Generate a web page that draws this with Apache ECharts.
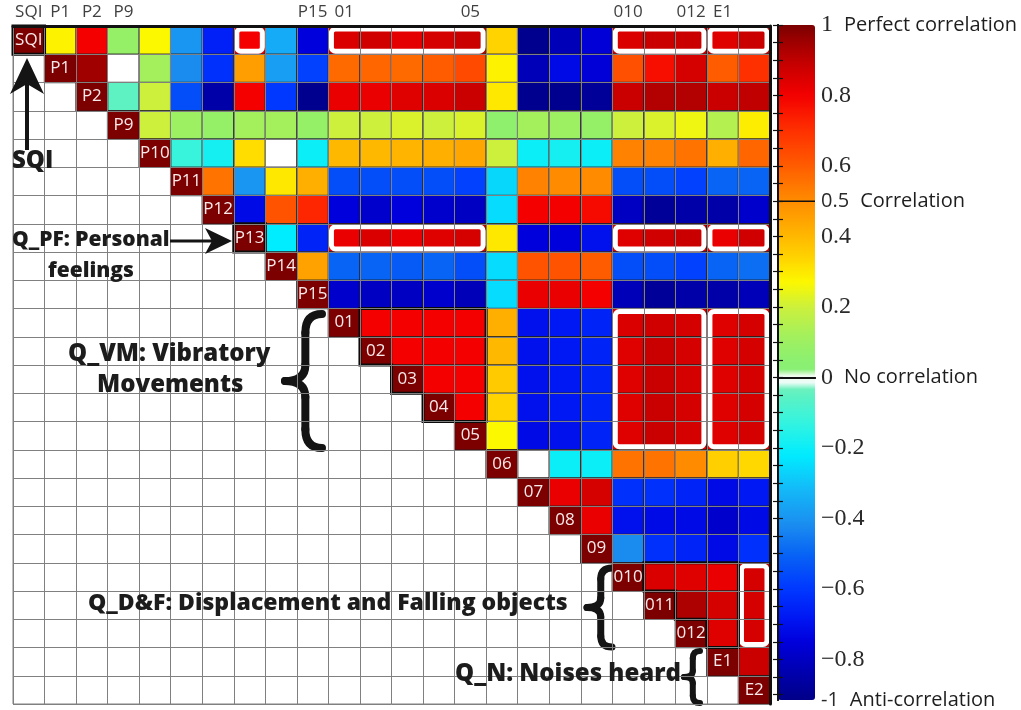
<!DOCTYPE html>
<html><head><meta charset="utf-8">
<script src="https://cdn.jsdelivr.net/npm/echarts@6/dist/echarts.min.js"></script>
<style>html,body{margin:0;padding:0;background:#fff}#chart{width:1021px;height:710px}</style>
</head><body><div id="chart"></div>
<script>
// ---------- DATA ----------
const names = ['SQI','P1','P2','P9','P10','P11','P12','P13','P14','P15','01','02','03','04','05','06','07','08','09','010','011','012','E1','E2'];
const topLabels = ['SQI','P1','P2','P9','P15','01','05','010','012','E1'];

// upper-triangle correlations, row i holds columns i+1 .. 23
const r_SQI = [0.28, 0.80, 0.08, 0.27, -0.40, -0.66, 0.80, -0.35, -0.75, 0.85, 0.87, 0.83, 0.86, 0.88, 0.34, -0.90, -0.82, -0.76, 0.85, 0.88, 0.88, 0.84, 0.88];
const r_P1  = [0.95, 0.00, 0.12, -0.42, -0.62, 0.46, -0.38, -0.58, 0.57, 0.58, 0.57, 0.60, 0.64, 0.28, -0.82, -0.72, -0.76, 0.63, 0.77, 0.86, 0.60, 0.70];
const r_P2  = [-0.05, 0.20, -0.55, -0.85, 0.80, -0.60, -0.90, 0.82, 0.82, 0.84, 0.85, 0.88, 0.30, -0.90, -0.90, -0.88, 0.88, 0.92, 0.92, 0.88, 0.90];
const r_P9  = [0.20, 0.10, 0.08, 0.12, 0.12, 0.08, 0.20, 0.20, 0.22, 0.20, 0.22, 0.06, 0.12, 0.10, 0.08, 0.20, 0.22, 0.25, 0.15, 0.29];
const r_P10 = [-0.12, -0.18, 0.32, 0.00, -0.20, 0.40, 0.40, 0.41, 0.42, 0.44, 0.20, -0.20, -0.18, -0.20, 0.52, 0.52, 0.55, 0.42, 0.58];
const r_P11 = [0.55, -0.40, 0.30, 0.42, -0.55, -0.55, -0.55, -0.55, -0.58, -0.26, 0.52, 0.50, 0.50, -0.55, -0.55, -0.58, -0.50, -0.50];
const r_P12 = [-0.72, 0.62, 0.72, -0.75, -0.78, -0.75, -0.78, -0.80, -0.25, 0.80, 0.80, 0.78, -0.80, -0.88, -0.85, -0.85, -0.78];
const r_P13 = [-0.22, -0.65, 0.82, 0.85, 0.82, 0.84, 0.86, 0.30, -0.75, -0.75, -0.70, 0.84, 0.87, 0.88, 0.82, 0.87];
const r_P14 = [0.45, -0.50, -0.50, -0.52, -0.50, -0.55, -0.25, 0.62, 0.62, 0.60, -0.55, -0.55, -0.58, -0.50, -0.48];
const r_P15 = [-0.78, -0.80, -0.80, -0.78, -0.82, -0.25, 0.82, 0.82, 0.80, -0.82, -0.88, -0.85, -0.85, -0.82];
const r_O1  = [0.80, 0.80, 0.80, 0.80, 0.42, -0.70, -0.68, -0.65, 0.85, 0.87, 0.86, 0.84, 0.86];
const r_O2  = [0.80, 0.80, 0.80, 0.40, -0.70, -0.68, -0.65, 0.84, 0.88, 0.86, 0.84, 0.86];
const r_O3  = [0.80, 0.80, 0.36, -0.70, -0.68, -0.65, 0.84, 0.88, 0.86, 0.84, 0.86];
const r_O4  = [0.80, 0.34, -0.70, -0.68, -0.65, 0.84, 0.88, 0.86, 0.84, 0.86];
const r_O5  = [0.27, -0.72, -0.70, -0.65, 0.84, 0.88, 0.86, 0.84, 0.86];
const r_O6  = [0.00, -0.20, -0.20, 0.55, 0.55, 0.50, 0.35, 0.33];
const r_O7  = [0.82, 0.86, -0.62, -0.62, -0.65, -0.72, -0.68];
const r_O8  = [0.82, -0.70, -0.72, -0.72, -0.78, -0.72];
const r_O9  = [-0.42, -0.62, -0.65, -0.72, -0.62];
const r_O10 = [0.85, 0.84, 0.82, 0.86];
const r_O11 = [0.93, 0.86, 0.86];
const r_O12 = [0.84, 0.86];
const r_E1  = [0.88];
const upperRows = [r_SQI, r_P1, r_P2, r_P9, r_P10, r_P11, r_P12, r_P13, r_P14, r_P15, r_O1, r_O2, r_O3, r_O4, r_O5, r_O6, r_O7, r_O8, r_O9, r_O10, r_O11, r_O12, r_E1];

// highlighted groups (white frames): [firstCol, firstRow, lastCol, lastRow]
const highlightBlocks = [[7,0,7,0],[10,0,14,0],[19,0,21,0],[22,0,23,0],[10,7,14,7],[19,7,21,7],[22,7,23,7],[19,10,21,14],[22,10,23,14],[23,19,23,21]];
// black outlined groups: [firstCol, firstRow, lastCol, lastRow, diagonalOffset]
const outlinedBlocks = [[0,0,0,0,0],[7,7,7,7,0],[11,10,14,13,0],[20,19,22,21,1]];

// colour bar
const cbMin = -0.915;
const cbLabelValues = [1, 0.8, 0.6, 0.5, 0.4, 0.2, 0, -0.2, -0.4, -0.6, -0.8, cbMin];
const cbLabelNums   = ['1','0.8','0.6','0.5','0.4','0.2','0','\u22120.2','\u22120.4','\u22120.6','\u22120.8','-1'];
const cbLabelNotes  = ['Perfect correlation','','','Correlation','','','No correlation','','','','','Anti-correlation'];
const cbSerif       = [true, true, true, false, true, true, true, true, true, true, true, false];
const cmapStops = [
  [cbMin,'#000088'],[-0.85,'#0000a8'],[-0.75,'#0000dc'],[-0.68,'#0018f4'],[-0.6,'#0038ff'],[-0.5,'#0864f4'],
  [-0.42,'#1a8cf0'],[-0.32,'#14b8f8'],[-0.22,'#00ecff'],[-0.12,'#38f4dc'],[-0.035,'#66f0bc'],[-0.02,'#c8f8e8'],
  [-0.012,'#ffffff'],[0.004,'#ffffff'],[0.012,'#88f078'],[0.05,'#8cf070'],[0.12,'#a4f05c'],[0.2,'#ccf03c'],
  [0.27,'#fcf800'],[0.33,'#ffd800'],[0.4,'#ffb800'],[0.5,'#ff8c00'],[0.55,'#ff7400'],[0.6,'#ff5c00'],
  [0.7,'#ff3000'],[0.8,'#f40000'],[0.9,'#c00000'],[0.95,'#a00000'],[1,'#7c0000']
];

// ---------- BUILD ----------
function hex(h){return [parseInt(h.substr(1,2),16),parseInt(h.substr(3,2),16),parseInt(h.substr(5,2),16)];}
function cmapAt(v){
  for(let i=0;i<cmapStops.length-1;i++){
    const a=cmapStops[i],b=cmapStops[i+1];
    if(v>=a[0]&&v<=b[0]){
      const t=(v-a[0])/(b[0]-a[0]||1),ca=hex(a[1]),cb=hex(b[1]);
      return 'rgb('+ca.map((c,k)=>Math.round(c+(cb[k]-c)*t)).join(',')+')';
    }
  }
  return v<cbMin?cmapStops[0][1]:cmapStops[cmapStops.length-1][1];
}
const cmapColors=[];
const NS=384;
for(let k=0;k<NS;k++){cmapColors.push(cmapAt(cbMin+(1-cbMin)*k/(NS-1)));}

const cellData=[];
upperRows.forEach((row,i)=>row.forEach((v,j)=>cellData.push([i+1+j,i,v])));
const diagData=names.map((n,i)=>[i,i,1]);

const cbMinorTicks=[];
for(let k=0;k<=38;k++){const v=+(1-k*0.05).toFixed(2); if(v>=cbMin) cbMinorTicks.push(v);}

function cbFormatter(v){
  const i=cbLabelValues.findIndex(x=>Math.abs(x-v)<1e-6);
  if(i<0) return '';
  const num=(cbSerif[i]?'{n|':'{s|')+cbLabelNums[i]+'}';
  return cbLabelNotes[i]?num+'{t|'+cbLabelNotes[i]+'}':num;
}

const chart=echarts.init(document.getElementById('chart'),null,{renderer:'canvas'});

const txtFont='"Open Sans", "Noto Sans", sans-serif';
function annText(x,y,t,size){
  return {type:'text',x:x,y:y,z:50,style:{text:t,fontFamily:txtFont,fontWeight:800,fontSize:size||24,fill:'#1c1c1c',verticalAlign:'middle',align:'left'}};
}
function brace(xl,xr,y0,y1,lw){
  const xm=xl+(xr-xl)*0.55, ym=(y0+y1)/2, h=y1-y0;
  const st={stroke:'#141414',lineWidth:lw,fill:null,lineCap:'round'};
  return {type:'group',z:50,children:[
    {type:'bezierCurve',shape:{x1:xr,y1:y0,cpx1:xm,cpy1:y0,x2:xm,y2:y0+h*0.14},style:st},
    {type:'line',shape:{x1:xm,y1:y0+h*0.14,x2:xm,y2:ym-h*0.12},style:st},
    {type:'bezierCurve',shape:{x1:xm,y1:ym-h*0.12,cpx1:xm,cpy1:ym,x2:xl,y2:ym},style:st},
    {type:'bezierCurve',shape:{x1:xl,y1:ym,cpx1:xm,cpy1:ym,x2:xm,y2:ym+h*0.12},style:st},
    {type:'line',shape:{x1:xm,y1:ym+h*0.12,x2:xm,y2:y1-h*0.14},style:st},
    {type:'bezierCurve',shape:{x1:xm,y1:y1-h*0.14,cpx1:xm,cpy1:y1,x2:xr,y2:y1},style:st}
  ]};
}

const annotations=[
  {type:'line',z:50,shape:{x1:27,y1:150,x2:27,y2:84},style:{stroke:'#141414',lineWidth:4}},
  {type:'polygon',z:50,shape:{points:[[27,58],[44,94],[27,84],[10,94]]},style:{fill:'#141414'}},
  annText(12,161,'SQI',24),
  {type:'line',z:50,shape:{x1:170,y1:241,x2:214,y2:241},style:{stroke:'#141414',lineWidth:3}},
  {type:'polygon',z:50,shape:{points:[[232,241],[205,228],[212,241],[205,254]]},style:{fill:'#141414'}},
  annText(12,240,'Q_PF: Personal',21),
  annText(48,271,'feelings',21),
  annText(68,354,'Q_VM: Vibratory',24),
  annText(97,385,'Movements',24),
  annText(88,603,'Q_D&F: Displacement and Falling objects',23),
  annText(455,674,'Q_N: Noises heard',24),
  brace(285,322,314,448,8),
  brace(587,612,568,647,7),
  brace(684,700,651,703,6)
];

const option={
  animation:false,
  backgroundColor:'#fff',
  grid:[
    {left:13,top:26,width:757,height:678,show:true,borderColor:'#808080',borderWidth:1},
    {left:778,top:25,width:37,height:675}
  ],
  xAxis:[
    {gridIndex:0,type:'category',data:names,position:'top',z:5,
     axisLine:{show:true,lineStyle:{color:'#111',width:3}},axisTick:{show:false},
     axisLabel:{interval:0,margin:5,fontSize:17,color:'#404040',fontFamily:txtFont,formatter:v=>topLabels.includes(v)?v:''},
     splitLine:{show:true,interval:0,lineStyle:{color:'#808080',width:1}}},
    {gridIndex:1,type:'value',min:0,max:1,position:'top',z:10,axisLine:{show:true,lineStyle:{color:'#111',width:2}},axisTick:{show:false},axisLabel:{show:false},splitLine:{show:false}},
    {gridIndex:1,type:'value',min:0,max:1,position:'bottom',z:10,axisLine:{show:true,lineStyle:{color:'#111',width:2}},axisTick:{show:false},axisLabel:{show:false},splitLine:{show:false}}
  ],
  yAxis:[
    {gridIndex:0,type:'category',data:names,inverse:true,position:'right',z:5,
     axisLine:{show:true,lineStyle:{color:'#111',width:3}},axisTick:{show:false},axisLabel:{show:false},
     splitLine:{show:true,interval:0,lineStyle:{color:'#808080',width:1}}},
    {gridIndex:1,type:'value',min:cbMin,max:1,position:'right',z:10,
     axisLine:{show:true,lineStyle:{color:'#111',width:2}},
     axisTick:{show:true,inside:true,length:5,customValues:cbMinorTicks,lineStyle:{color:'#111',width:1.2}},
     axisLabel:{show:true,margin:6,customValues:cbLabelValues,formatter:cbFormatter,
       rich:{n:{fontFamily:'"Liberation Serif", serif',fontSize:24,color:'#2a2a2a'},
             s:{fontFamily:txtFont,fontSize:20,color:'#2a2a2a'},
             t:{fontFamily:txtFont,fontSize:20,color:'#1e1e1e',padding:[0,0,0,11]}}},
     splitLine:{show:false}},
    {gridIndex:1,type:'value',min:cbMin,max:1,position:'left',z:10,
     axisLine:{show:true,lineStyle:{color:'#111',width:2}},
     axisTick:{show:true,inside:true,length:5,customValues:cbMinorTicks,lineStyle:{color:'#111',width:1.2}},
     axisLabel:{show:false},splitLine:{show:false}}
  ],
  visualMap:{type:'continuous',seriesIndex:0,min:cbMin,max:1,calculable:false,realtime:false,hoverLink:false,
    orient:'vertical',left:778,top:25,itemWidth:37,itemHeight:675,padding:0,z:1,
    inRange:{color:cmapColors}},
  series:[
    {type:'heatmap',xAxisIndex:0,yAxisIndex:0,data:cellData,z:2,
     itemStyle:{borderColor:'rgba(30,30,30,0.8)',borderWidth:1},emphasis:{disabled:true}},
    {type:'heatmap',xAxisIndex:0,yAxisIndex:0,data:diagData,z:2,
     itemStyle:{color:'#7c0000',borderColor:'rgba(30,30,30,0.8)',borderWidth:1},emphasis:{disabled:true},
     label:{show:true,formatter:p=>names[p.value[0]],color:'#f8eaea',fontSize:17,fontFamily:txtFont}},
    {type:'custom',xAxisIndex:0,yAxisIndex:0,data:highlightBlocks,z:3,silent:true,
     renderItem:function(params,api){
       const c0=api.value(0),r0=api.value(1),c1=api.value(2),r1=api.value(3);
       const p=api.coord([c0,r0]),s=api.size([1,1]);
       const x=p[0]-s[0]/2,y=p[1]-s[1]/2,w=(c1-c0+1)*s[0],h=(r1-r0+1)*s[1];
       return {type:'rect',shape:{x:x+3,y:y+3,width:w-6,height:h-6,r:4},style:{fill:null,stroke:'#ffffff',lineWidth:5}};
     }},
    {type:'custom',xAxisIndex:0,yAxisIndex:0,data:outlinedBlocks,z:4,silent:true,
     renderItem:function(params,api){
       const c0=api.value(0),r0=api.value(1),c1=api.value(2),r1=api.value(3),off=api.value(4);
       const p=api.coord([0,0]),s=api.size([1,1]);
       const X=c=>p[0]-s[0]/2+c*s[0],Y=r=>p[1]-s[1]/2+r*s[1];
       const L=r=>Math.max(c0,r+off);
       const pts=[[X(L(r0)),Y(r0)],[X(c1+1),Y(r0)],[X(c1+1),Y(r1+1)]];
       for(let r=r1;r>=r0;r--){pts.push([X(L(r)),Y(r+1)]);pts.push([X(L(r)),Y(r)]);}
       return {type:'polygon',shape:{points:pts},style:{fill:null,stroke:'#0a0a0a',lineWidth:3,lineJoin:'miter'}};
     }}
  ],
  graphic:annotations
};
chart.setOption(option);
const yHalf=chart.convertToPixel({yAxisIndex:1},0.5);
chart.setOption({graphic:annotations.concat([{type:'line',z:60,shape:{x1:778,y1:yHalf,x2:815,y2:yHalf},style:{stroke:'#111',lineWidth:1.5}}])});
</script>
</body></html>
